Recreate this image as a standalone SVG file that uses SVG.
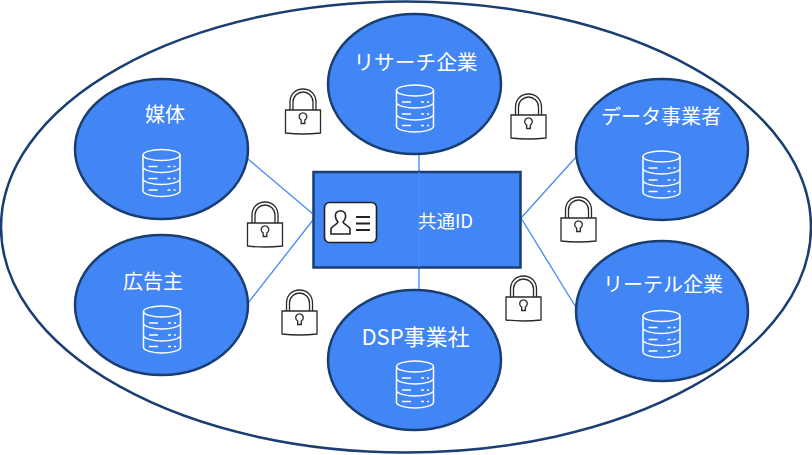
<svg xmlns="http://www.w3.org/2000/svg" xmlns:xlink="http://www.w3.org/1999/xlink" width="812" height="455" viewBox="0 0 812 455">
<style>
.n{fill:#4285f4;stroke:#1a3e72;stroke-width:2.5}
.t{fill:#fff;font-family:"Noto Sans CJK JP","Noto Sans",sans-serif;font-size:20px;text-anchor:middle}
.c{stroke:#4f8ef5;stroke-width:1.4;fill:none}
.db{fill:none;stroke:#fff;stroke-width:1.5}
.lk{fill:none;stroke:#2a2a2a;stroke-width:1.3}
</style>
<defs>
<g id="db">
<ellipse class="db" cx="0" cy="-18" rx="18.5" ry="5.5"/>
<path class="db" d="M-18.500-18V18C-18.500 21-9 23.500 0 23.500S18.500 21 18.500 18V-18M-18.500-6C-18.500-3-9-0.500 0-0.500S18.500-3 18.500-6M-18.500 6C-18.500 9-9 11.500 0 11.500S18.500 9 18.500 6"/>
<path class="db" d="M-13-6.500H-4M6-6.500H9M12-6.500H14M-13 5.500H-4M6 5.500H9M12 5.500H14M-13 17H-4M6 17H9M12 17H14"/>
</g>
<g id="lock">
<path class="lk" d="M-13-1V-9C-13-17-7-22 0-22S13-17 13-9V-1M-10-1V-9C-10-15-5-19 0-19S10-15 10-9V-1"/>
<path fill="#fff" stroke="#2a2a2a" stroke-width="1.300" d="M-17.500-1H17.500V22Q0 24-17.500 22Z"/>
<path class="lk" d="M-1.800 12.500V9A3.800 3.800 0 1 1 1.800 9V12.500Z"/>
</g>
</defs>
<ellipse cx="406" cy="227" rx="405" ry="225.500" fill="#fff" stroke="#1a3e72" stroke-width="2.500"/>
<g id="connectors">
<path class="c" d="M248 159L313 214M248 303L313 220M419 153V172M419 267V291M521 218L577 156M521 218L577 309"/>
</g>
<g id="node-media"><ellipse class="n" cx="161.500" cy="149" rx="86.500" ry="70"/><text class="t" x="165" y="122">媒体</text><use xlink:href="#db" href="#db" x="161.500" y="173"/></g>
<g id="node-advertiser"><ellipse class="n" cx="161.500" cy="305" rx="86.500" ry="70"/><text class="t" x="153" y="289">広告主</text><use xlink:href="#db" href="#db" x="162" y="329.500"/></g>
<g id="node-research"><ellipse class="n" cx="414.500" cy="84" rx="86.500" ry="70"/><text class="t" x="415.500" y="70" style="font-size:20.700px">リサーチ企業</text><use xlink:href="#db" href="#db" x="415" y="108.500"/></g>
<g id="node-dsp"><ellipse class="n" cx="414.500" cy="360" rx="86.500" ry="70"/><text class="t" x="415.500" y="345" style="font-size:22px">DSP事業社</text><use xlink:href="#db" href="#db" x="415" y="384.500"/></g>
<g id="node-data"><ellipse class="n" cx="662" cy="149.500" rx="86" ry="70.500"/><text class="t" x="661" y="124">データ事業者</text><use xlink:href="#db" href="#db" x="661.500" y="174.500"/></g>
<g id="node-retail"><ellipse class="n" cx="662" cy="311" rx="86" ry="70"/><text class="t" x="663" y="292">リーテル企業</text><use xlink:href="#db" href="#db" x="661.500" y="334"/></g>
<g id="node-id">
<rect x="313.500" y="172" width="207" height="95.500" fill="#4285f4" stroke="#1a3e72" stroke-width="2.500"/>
<path d="M419 172V267" stroke="#4f8ef5" stroke-width="1"/>
<text x="445.500" y="227.500" fill="#fff" font-family="'Noto Sans CJK JP','Noto Sans',sans-serif" font-size="18.500" text-anchor="middle">共通ID</text>
<rect x="324.500" y="202.500" width="52" height="40" rx="5" fill="#fff" stroke="#222" stroke-width="1.600"/>
<path d="M331 234V229C331 226 337 225 338 222C335 219 335 215 336 213C338 210 343 210 345 213C346 216 346 219 343 222C344 225 350 226 350 229V234Z" fill="none" stroke="#222" stroke-width="1.600"/>
<path d="M356 217H370M356 223.500H370M356 230H370" stroke="#222" stroke-width="2"/>
</g>
<use xlink:href="#lock" href="#lock" x="303" y="111"/>
<use xlink:href="#lock" href="#lock" x="265" y="224"/>
<use xlink:href="#lock" href="#lock" x="299.500" y="312"/>
<use xlink:href="#lock" href="#lock" x="528.500" y="116"/>
<use xlink:href="#lock" href="#lock" x="578.500" y="219"/>
<use xlink:href="#lock" href="#lock" x="523.500" y="298"/>
</svg>
